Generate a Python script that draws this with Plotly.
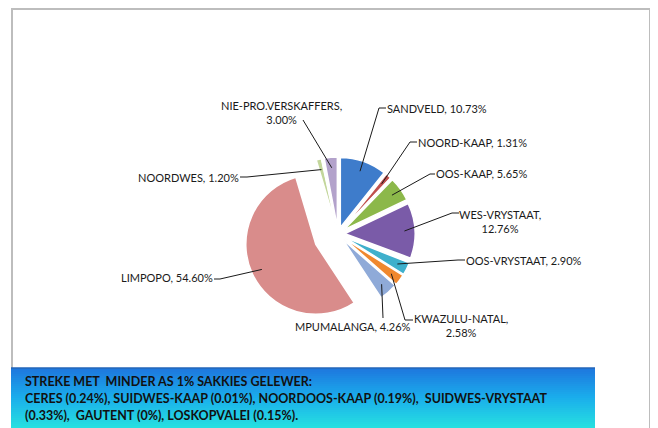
import math
import plotly.graph_objects as go

# page body has an 8px margin; figure is sized to fill the rest of the window
OFF = 8
FW, FH = 650, 420

# ---- data ----
regions = ["SANDVELD", "NOORD-KAAP", "NOORDOOS-KAAP", "OOS-KAAP", "WES-VRYSTAAT",
           "SUIDWES-VRYSTAAT", "OOS-VRYSTAAT", "KWAZULU-NATAL", "MPUMALANGA",
           "LIMPOPO", "NOORDWES", "CERES", "SUIDWES-KAAP", "GAUTENT", "LOSKOPVALEI",
           "NIE-PRO.VERSKAFFERS"]
shares = [10.73, 1.31, 0.19, 5.65, 12.76, 0.33, 2.90, 2.58, 4.26,
          54.60, 1.20, 0.24, 0.01, 0.00, 0.15, 3.00]
colors = ["#3E7CCB", "#C0504D", "#B7C98A", "#8CB84A", "#7A5BA8", "#9C88C0", "#3FB0CC",
          "#F0882E", "#8FAAD8", "#D98C8B", "#C3D69B", "#9BAF6A", "#A9BF7C", "#C9D8A8",
          "#8FA35C", "#B3A2CB"]
pulls = [0.10, 0.10, 0.10, 0.10, 0.10, 0.10, 0.10, 0.10, 0.10,
         0.35, 0.10, 0.10, 0.10, 0.10, 0.10, 0.10]

# labelled slices: (region, text, text x, text y, xanchor, leader end, stub end)  [window px]
labels = [
    ("SANDVELD", "SANDVELD, 10.73%", 387, 108, "left", (379, 108), (386, 108)),
    ("NOORD-KAAP", "NOORD-KAAP, 1.31%", 418, 142, "left", (410, 142), (417, 142)),
    ("OOS-KAAP", "OOS-KAAP, 5.65%", 436, 174, "left", (430, 174), (435, 174)),
    ("WES-VRYSTAAT", "WES-VRYSTAAT,<br>12.76%", 500, 221, "center", (452, 213), (459, 213)),
    ("OOS-VRYSTAAT", "OOS-VRYSTAAT, 2.90%", 466, 260, "left", (458, 260), (465, 260)),
    ("KWAZULU-NATAL", "KWAZULU-NATAL,<br>2.58%", 461, 325, "center", (405, 320), (413, 320)),
    ("MPUMALANGA", "MPUMALANGA, 4.26%", 353, 326, "center", (383, 318), (383, 318)),
    ("LIMPOPO", "LIMPOPO, 54.60%", 213, 277, "right", (220, 279), (214, 279)),
    ("NOORDWES", "NOORDWES, 1.20%", 239, 177, "right", (247, 177), (240, 177)),
    ("NIE-PRO.VERSKAFFERS", "NIE-PRO.VERSKAFFERS,<br>3.00%", 281, 112, "center", (303, 120), (303, 120)),
]

note_lines = ["STREKE MET\u00a0 MINDER AS 1% SAKKIES GELEWER:",
              "CERES (0.24%), SUIDWES-KAAP (0.01%), NOORDOOS-KAAP (0.19%),\u00a0 SUIDWES-VRYSTAAT",
              "(0.33%),\u00a0 GAUTENT (0%), LOSKOPVALEI (0.15%)."]

FONT = "Lato, Liberation Sans, Arial"

def px(x):
    return (x - OFF) / FW

def py(y):
    return 1 - (y - OFF) / FH

# ---- geometry of pie (window pixels) ----
cx, cy, r = 338, 234, 70
maxp = max(pulls)
h = r * (1 + maxp)
dom_x = [px(cx - h), px(cx + h)]
dom_y = [py(cy + h), py(cy - h)]

fig = go.Figure(go.Pie(
    labels=regions, values=shares, sort=False, direction="clockwise", rotation=0,
    pull=pulls, marker=dict(colors=colors, line=dict(color="white", width=1.5)),
    textinfo="none", hoverinfo="label+percent", showlegend=False,
    domain=dict(x=dom_x, y=dom_y),
))

total = sum(shares)
cum = 0.0
mid = {}
for reg, v in zip(regions, shares):
    mid[reg] = (cum + v / 2) / total * 2 * math.pi
    cum += v

shapes = []
annotations = []
for reg, txt, tx, ty, xa, end, stub in labels:
    i = regions.index(reg)
    th = mid[reg]
    d = r * (pulls[i] + 0.85)
    sx = cx + d * math.sin(th)
    sy = cy - d * math.cos(th)
    path = f"M{px(sx)},{py(sy)} L{px(end[0])},{py(end[1])} L{px(stub[0])},{py(stub[1])}"
    shapes.append(dict(type="path", xref="paper", yref="paper", path=path,
                       line=dict(color="#1a1a1a", width=1)))
    annotations.append(dict(text=txt, x=px(tx), y=py(ty), xref="paper", yref="paper",
                            xanchor=xa, yanchor="middle", showarrow=False, align="center",
                            borderpad=0, borderwidth=0,
                            font=dict(family=FONT, size=11, color="#1a1a1a")))

# outer chart border
shapes.insert(0, dict(type="rect", xref="paper", yref="paper", x0=px(12), x1=px(650),
                      y0=-0.05, y1=py(9), line=dict(color="#BDBDBD", width=2),
                      fillcolor="white", layer="below"))

# gradient note box (stacked strips)
bx0, bx1, by0, by1 = 11, 595, 368, 432
stops = [(0.0, (30, 118, 222)), (0.45, (26, 172, 236)), (1.0, (40, 232, 222))]
def grad(t):
    for (t0, c0), (t1, c1) in zip(stops[:-1], stops[1:]):
        if t <= t1:
            f = (t - t0) / (t1 - t0)
            return "rgb(%d,%d,%d)" % tuple(round(a + (b - a) * f) for a, b in zip(c0, c1))
    return "rgb(%d,%d,%d)" % stops[-1][1]
n = 32
step = (by1 - by0) / n
for k in range(n):
    y0 = by0 + k * step
    shapes.append(dict(type="rect", xref="paper", yref="paper", x0=px(bx0), x1=px(bx1),
                       y0=py(y0 + step + 0.6), y1=py(y0), line=dict(width=0),
                       fillcolor=grad((k + 0.5) / n), layer="below"))
shapes.append(dict(type="line", xref="paper", yref="paper", x0=px(bx0), x1=px(bx1),
                   y0=py(by0), y1=py(by0), line=dict(color="#2566B8", width=1.5),
                   layer="below"))

for j, line in enumerate(note_lines):
    annotations.append(dict(text="<b>" + line + "</b>", x=px(25), y=py(381 + 17 * j),
                            xref="paper", yref="paper", xanchor="left", yanchor="middle",
                            showarrow=False, borderpad=0, borderwidth=0,
                            font=dict(family=FONT, size=12.5, color="#111111")))

fig.update_layout(width=FW, height=FH, margin=dict(l=0, r=0, t=0, b=0),
                  paper_bgcolor="white", plot_bgcolor="white",
                  shapes=shapes, annotations=annotations)

fig.write_html("out.html")
